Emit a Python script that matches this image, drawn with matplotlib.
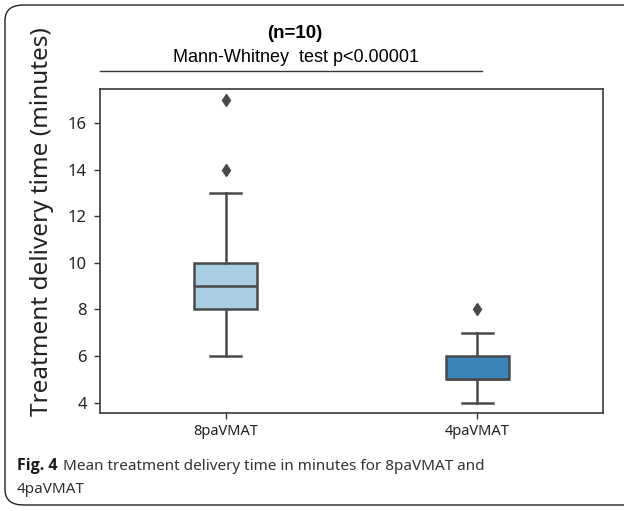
import matplotlib
matplotlib.use("Agg")
import matplotlib.pyplot as plt
from matplotlib.patches import FancyBboxPatch
from matplotlib.lines import Line2D

# Box statistics (minutes)
groups = ["8paVMAT", "4paVMAT"]
q1 = [8, 5]
medians = [9, 5]
q3 = [10, 6]
whisker_lo = [6, 4]
whisker_hi = [13, 7]
outliers = [[14, 17], [8]]
box_colors = ["#a9cde2", "#3a86bb"]

stats = []
for i, name in enumerate(groups):
    stats.append({
        "label": name, "q1": q1[i], "med": medians[i], "q3": q3[i],
        "whislo": whisker_lo[i], "whishi": whisker_hi[i], "fliers": outliers[i],
    })

fig = plt.figure(figsize=(6.24, 5.11), dpi=100)

# rounded frame around the whole figure panel
frame = FancyBboxPatch((5 / 624, 6 / 511), 640 / 624, 500 / 511,
                       boxstyle="round,pad=0,rounding_size=0.03",
                       transform=fig.transFigure, fill=False,
                       edgecolor="#222222", linewidth=1.0)
fig.patches.append(frame)

ax = fig.add_axes([100 / 624, 1 - 413 / 511, 503 / 624, 324 / 511])
line_col = "#4a4a4a"
bp = ax.bxp(stats, positions=[0, 1], widths=0.25, patch_artist=True,
            boxprops=dict(edgecolor=line_col, linewidth=1.8),
            medianprops=dict(color=line_col, linewidth=1.8),
            whiskerprops=dict(color=line_col, linewidth=1.8),
            capprops=dict(color=line_col, linewidth=1.8),
            flierprops=dict(marker="d", markerfacecolor=line_col,
                            markeredgecolor=line_col, markersize=6))
for patch, c in zip(bp["boxes"], box_colors):
    patch.set_facecolor(c)

ax.set_xlim(-0.5, 1.5)
ax.set_ylim(3.55, 17.47)
ax.set_yticks([4, 6, 8, 10, 12, 14, 16])
ax.set_xticks([0, 1])
ax.set_xticklabels(groups)
for s in ax.spines.values():
    s.set_color("#3a3a3a")
    s.set_linewidth(1.2)
ax.tick_params(colors="#333333", width=1.0, length=4.5)
ax.tick_params(axis="y", pad=5)
for lab in ax.get_yticklabels() + ax.get_xticklabels():
    lab.set_fontfamily("Noto Sans")
    lab.set_color("#222222")
for lab in ax.get_yticklabels():
    lab.set_fontsize(12)
for lab in ax.get_xticklabels():
    lab.set_fontsize(10.5)

fig.text(42 / 624, 1 - 222 / 511, "Treatment delivery time (minutes)",
         rotation=90, ha="center", va="center", fontsize=17.5,
         family="Noto Sans", color="#222222")

# title block
fig.text(295 / 624, 1 - 34 / 511, "(n=10)", ha="center", va="center",
         fontsize=13.5, fontweight="bold", family="Liberation Sans")
fig.text(296 / 624, 1 - 57 / 511, "Mann-Whitney  test p<0.00001",
         ha="center", va="center", fontsize=13, family="Liberation Sans")
fig.add_artist(Line2D([100 / 624, 482 / 624], [1 - 71 / 511, 1 - 71 / 511],
                      transform=fig.transFigure, color="#333333", linewidth=1.0))

# caption
fig.text(17 / 624, 1 - 466 / 511, "Fig. 4", ha="left", va="center",
         fontsize=11.5, fontweight="bold", family="Open Sans", color="#1a1a1a")
fig.text(63 / 624, 1 - 466 / 511,
         "Mean treatment delivery time in minutes for 8paVMAT and",
         ha="left", va="center", fontsize=11, family="Noto Sans", color="#333333")
fig.text(17 / 624, 1 - 489 / 511, "4paVMAT", ha="left", va="center",
         fontsize=11, family="Noto Sans", color="#333333")

fig.savefig("out.png", dpi=100)
